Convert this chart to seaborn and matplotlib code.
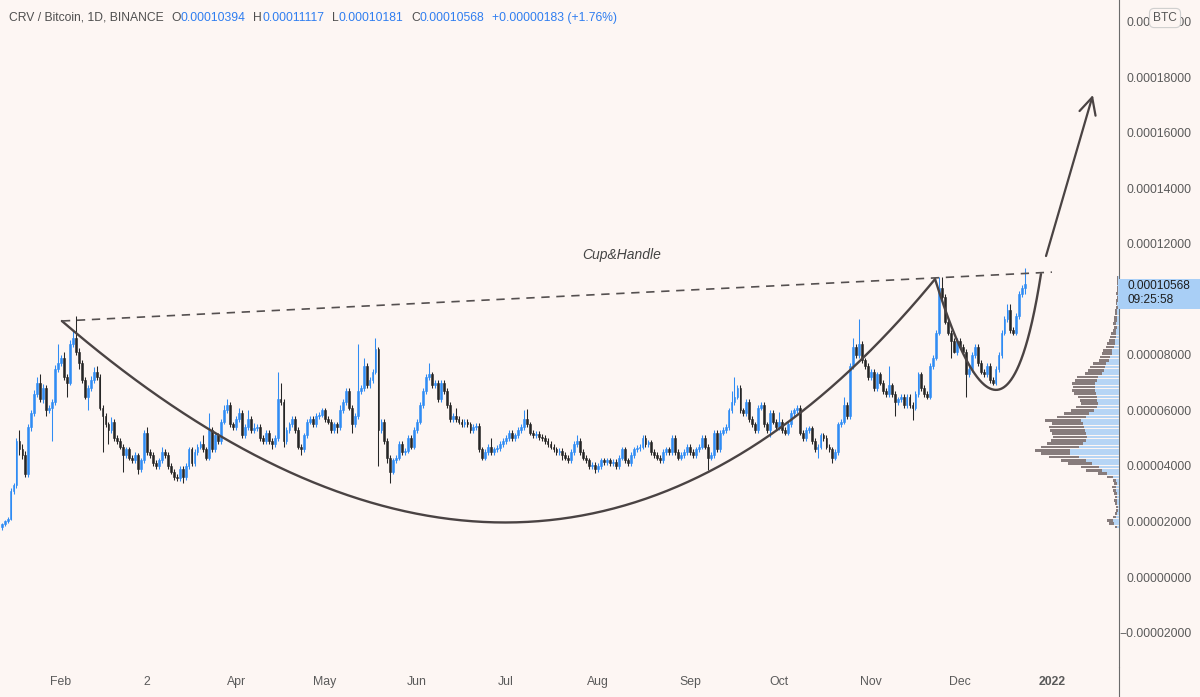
import numpy as np
import pandas as pd
import seaborn as sns
import matplotlib
matplotlib.use("Agg")
import matplotlib.pyplot as plt
import matplotlib.dates as mdates
from matplotlib.patches import Rectangle
from matplotlib.lines import Line2D
from matplotlib.transforms import blended_transform_factory

UNIT = 1e-6  # all prices below are in millionths of a BTC

# CRV / BTC daily candles, Jan 12 - Dec 23 2021 (open = previous close)
first_day = "2021-01-12"
first_open = 18
close = [
    # Jan 12 - Jan 31
    19, 20, 21, 31, 33, 49, 46, 44, 37, 54,
    59, 66, 70, 64, 68, 60, 61, 63, 75, 77,
    # Feb 1 - Mar 12
    79, 72, 70, 84, 86, 81, 77, 71, 65, 68,
    71, 74, 72, 61, 58, 55, 53, 56, 50, 49,
    47, 44, 46, 43, 42, 44, 39, 42, 52, 45,
    44, 41, 40, 42, 45, 44, 40, 38, 36, 35.5,
    # Mar 13 - May 8
    39, 36, 40, 46, 41, 45, 47, 48, 46, 43,
    53, 46, 51, 49, 56, 60, 62, 55, 54, 57,
    59, 51, 54, 57, 53, 53.5, 54, 50, 49, 52,
    49, 48, 50, 64, 63, 49, 53, 55, 57, 53,
    47, 46, 51, 56, 57, 55, 58, 58.5, 60, 57,
    56, 53, 55, 54, 60, 63, 67,
    # May 9 - Jul 5
    61, 55, 58, 67, 68, 76, 69, 71, 74, 82,
    53, 56, 49, 43, 38, 42, 43, 48, 45, 45.5,
    50, 47, 53, 56, 62, 67, 72, 73, 69, 70,
    64, 70, 67, 62, 57, 58, 57, 56, 55, 56,
    55, 53, 54, 54.5, 46, 43, 45, 47, 45, 46,
    46.5, 48, 49, 50, 52, 50, 51, 53,
    # Jul 6 - Aug 28
    54, 57, 55, 52, 51, 51.5, 50.5, 50, 49, 48,
    47, 46, 45, 45.5, 44, 43, 42, 45, 48, 49,
    45, 43, 42, 40, 40.5, 39, 40, 42, 41.5, 42,
    41, 41.5, 40, 43, 46, 42, 41, 44, 46, 46.5,
    47, 50, 48, 48.5, 45, 44, 43, 42, 45, 46,
    45, 50, 45, 43,
    # Aug 29 - Oct 24
    44, 45, 47, 45, 44, 46, 47, 50, 47, 43,
    44, 52, 46, 52, 53, 54, 60, 63, 65, 68,
    60, 59, 63, 57, 55, 53, 61, 62, 55, 53,
    59, 56, 54, 56, 53, 52, 55, 59, 60, 61,
    52, 50, 53, 53.5, 49, 46, 47, 51, 50, 47,
    46, 43, 45, 55, 56, 62, 58,
    # Oct 25 - Nov 23
    76, 83, 80, 84, 78, 76, 72, 74, 68, 73,
    70, 67, 66, 69, 66, 63, 64, 65, 62, 65,
    62, 61, 66, 73, 68, 66, 65, 76, 79, 88,
    # Nov 24 - Dec 23
    104, 101, 92, 88, 85, 81, 85, 83, 81, 73,
    75, 80, 83, 77, 74, 73, 76, 71, 70, 75,
    80, 88, 93, 96, 89, 88, 94, 102, 104, 105.68,
]
wick_hi = [
    0.5, 0.5, 0.5, 1, 1, 1, 4, 2, 1.5, 1,
    1, 1.5, 2, 3, 1.5, 1, 1, 1, 1.5, 7,
    1, 2, 1, 1.5, 3, 8, 1.5, 1, 1, 1,
    1.5, 1.5, 2, 1, 1, 1, 1, 1.5, 1, 1,
    1, 1, 1, 1, 1, 1, 0.5, 1, 1, 2,
    1, 1, 1, 1, 2, 1, 1, 1, 1, 1,
    1, 1, 1, 1, 1, 1, 1, 1, 3, 1,
    6, 1, 1, 1, 1, 2, 2, 1, 1, 1,
    2, 1, 1, 3, 1, 2, 1, 1, 1, 1,
    1, 1, 1, 10, 6, 1, 1, 1, 1, 1,
    1, 1, 1, 1, 1, 1, 1, 1, 1, 1,
    1, 1, 1, 1, 2, 1, 1,
    1, 1, 1, 17, 1, 3, 1, 1, 1, 4,
    1, 1, 1, 1, 1, 1, 1, 1, 1, 1,
    1, 1, 1, 1, 1, 1, 1, 4, 1, 1,
    1, 1, 1, 1, 1, 1, 3, 1, 1, 1,
    1, 1, 1, 1, 1, 1, 1, 1, 3, 1,
    1, 1, 1, 1, 1, 1, 1, 1,
    1, 3, 3.5, 1, 1, 1, 1, 1, 1, 1,
    1, 1, 1, 1, 1, 1, 1, 1, 1, 2,
    1, 1, 1, 1, 1, 1, 1, 1, 1, 1,
    1, 1, 1, 1, 1, 1, 1, 1, 1, 1,
    1, 1, 1, 1, 1, 1, 1, 1, 1, 1,
    1, 1, 1, 1,
    1, 1, 1, 1, 1, 1, 1, 1, 1, 1,
    1, 1, 1, 1, 1, 1, 1, 4, 7, 1,
    1, 1, 1, 1, 1, 1, 1, 1, 1, 1,
    1, 1, 1, 3.5, 1, 1, 1, 1, 1, 1,
    1, 1, 1, 1, 1, 1, 1, 1, 1, 1,
    1, 1, 1, 1, 1, 3, 1,
    1, 3, 1, 9, 1, 1, 1, 1, 1, 1,
    1, 1, 1, 7, 1, 1, 1, 1, 1, 1,
    1, 1, 1, 1, 1, 1, 1, 1, 1, 1,
    4, 4, 1, 1, 1, 1, 1, 1, 1, 1,
    1, 1, 1, 1, 1, 1, 1, 1, 1, 1,
    1, 1, 1, 2.5, 2.5, 1, 1, 1, 1, 5.5,
]
wick_lo = [
    1, 0.5, 0.5, 0.5, 1, 1, 2, 1.5, 1, 1,
    1.5, 1, 1, 1, 1.5, 2, 1, 12, 1, 1,
    1, 1, 5, 1, 1, 1, 2, 1, 1, 5,
    1, 1, 1, 1, 13, 1, 5, 1, 1, 1,
    1, 6, 1, 1, 1, 1, 2, 1, 1, 1,
    1, 1, 1, 1, 1, 1, 1, 1, 1, 1,
    1, 2, 1, 1, 1, 1, 1, 1, 1, 1,
    1, 1, 1, 1, 1, 1, 1, 1, 1, 1,
    1, 1, 1, 1, 1, 1, 1, 1, 1, 1,
    1, 2, 1, 1, 1, 2, 1, 1, 1, 1,
    1, 2, 1, 1, 1, 1, 1, 1, 1, 1,
    1, 1, 1, 2, 1, 1, 1,
    1, 3, 1, 1, 1, 1, 1, 1, 1, 1,
    13, 1, 1, 2, 4, 1, 1, 1, 1, 1,
    1, 1, 1, 1, 1, 1, 1, 1, 1, 1,
    1, 1, 1, 1, 1, 1, 1, 1, 1, 1,
    1, 1, 1, 1, 1, 1, 1, 1, 1, 1,
    1, 1, 1, 1, 1, 1, 1, 1,
    1, 1, 1, 1, 1, 1, 1, 1, 1, 1,
    1, 1, 1, 1, 2, 1, 1, 1, 1, 1,
    1, 1, 1, 1, 1, 1.5, 1, 1, 1, 1,
    1, 1, 1, 1, 1, 1, 1, 1, 1, 1,
    1, 1, 1, 1, 1, 1, 1, 1, 1, 1,
    1, 1, 1, 1,
    1, 1, 1, 1, 1, 1, 1, 1, 1, 4.5,
    1, 1, 1, 1, 1, 1, 1, 1, 1, 1,
    1, 1, 1, 1, 1, 1, 1, 1, 1, 1,
    2.5, 1, 1, 1, 1, 1, 1, 1, 1, 1,
    1, 1, 1, 1, 1, 1, 3, 1, 1, 1,
    1, 2, 1, 1, 1, 1, 1,
    1, 1, 1, 1, 1, 1, 1, 1, 1, 1,
    1, 1, 1, 1, 1, 5, 1, 1, 1, 1,
    1, 4.5, 1, 1, 1, 1, 1, 1, 1, 1,
    1, 1, 1, 1, 6, 0.5, 1, 1, 1, 8,
    1, 1, 1, 1, 1, 1, 1, 1, 1, 1,
    1, 1, 1, 1, 1, 1, 1, 1, 1, 2.2,
]

# visible range volume profile, top row first (bar lengths in pixels)
vp_top, vp_step = 108.0, 1.2
vp_total = [
    2, 2, 2.5, 2, 2.5, 3, 2.5, 3, 3.5, 3,
    4, 4.5, 5, 5.5, 6, 5.5, 6.5, 8, 9, 10,
    12, 13, 16, 17, 19, 20, 26, 29, 31, 34,
    42, 44, 47, 46, 47, 45, 41, 39, 38, 43,
    48, 55, 62, 74, 67, 70, 69, 67, 66, 68,
    72, 78, 84, 78, 70, 58, 51, 38, 33, 21,
    12, 6, 5, 7, 6, 5, 4, 5, 4, 3.5,
    3, 4, 6, 12, 10, 4,
]
vp_up = [
    1, 1, 1.5, 1, 1.5, 1.5, 1, 1.5, 2, 1.5,
    2, 2, 2.5, 2.5, 3, 2.5, 3, 3.5, 3.5, 4,
    4.5, 5, 7, 7.5, 9, 10, 13, 14, 15, 17,
    21, 22, 24, 24, 24, 23, 22, 22, 21, 22,
    25, 30, 33, 38, 36, 35, 34, 33, 32, 33,
    36, 40, 49, 49, 40, 33, 27, 20, 17, 12,
    6, 3, 2.5, 3, 3, 2.5, 2, 2.5, 2, 1.5,
    1.5, 2, 3, 6, 5, 2,
]

# hand drawings: (days after Feb 1 2021, price)
anchor = "2021-02-01"
trend_days, trend_px = [0.3, 334.0], [92.2, 109.8]
cup_days, cup_px = [0.3, 165.8, 294.6], [92.2, -60.1, 107.3]
handle_days, handle_px = [294.6, 318.2, 330.3], [107.3, 26.6, 109.1]
arrow_days, arrow_px = [332.0, 347.8], [115.6, 173.6]
label_day, label_px = 189.0, 116.0

tick_dates = ["2021-02-01", "2021-03-02", "2021-04-01", "2021-05-01", "2021-06-01",
              "2021-07-01", "2021-08-01", "2021-09-01", "2021-10-01", "2021-11-01",
              "2021-12-01", "2022-01-01"]
tick_labels = ["Feb", "2", "Apr", "May", "Jun", "Jul", "Aug", "Sep", "Oct", "Nov", "Dec", "2022"]

header = [("CRV / Bitcoin, 1D, BINANCE", "grey", 0), ("O", "grey", 5.5), ("0.00010394", "blue", 0),
          ("H", "grey", 5.5), ("0.00011117", "blue", 0), ("L", "grey", 5.5), ("0.00010181", "blue", 0),
          ("C", "grey", 5.5), ("0.00010568", "blue", 0), ("+0.00000183 (+1.76%)", "blue", 5.5)]

BG = "#fdf6f3"
UP = "#2f8cf4"
DOWN = "#262626"
INK = "#4a4343"
TXT = "#5a5a5a"
HEAD = {"grey": "#4f4f4f", "blue": "#2f7ef0"}

sns.set_theme(style="white", rc={"axes.facecolor": BG, "figure.facecolor": BG})
plt.rcParams["font.family"] = ["Liberation Sans", "DejaVu Sans"]

df = pd.DataFrame({"close": np.array(close, dtype=float) * UNIT})
df["date"] = pd.date_range(first_day, periods=len(df), freq="D")
df["open"] = df["close"].shift(1).fillna(first_open * UNIT)
df["high"] = df[["open", "close"]].max(axis=1) + np.array(wick_hi) * UNIT
df["low"] = df[["open", "close"]].min(axis=1) - np.array(wick_lo) * UNIT
colors = np.where(df["close"] >= df["open"], UP, DOWN)

fig = plt.figure(figsize=(12, 6.97), dpi=100)
ax = fig.add_axes([0, 30 / 697, 1119 / 1200, 667 / 697])

ax.vlines(df["date"], df["low"], df["high"], colors=colors, linewidth=0.75, zorder=2)
ax.bar(df["date"], df["close"] - df["open"], bottom=df["open"], width=0.62,
       color=colors, edgecolor=colors, linewidth=0.4, zorder=3)

base = mdates.date2num(pd.Timestamp(anchor))


def bezier(days, prices, n=240):
    t = np.linspace(0, 1, n)[:, None]
    p = np.column_stack([days, prices])
    pts = (1 - t) ** 2 * p[0] + 2 * t * (1 - t) * p[1] + t ** 2 * p[2]
    return base + pts[:, 0], pts[:, 1] * UNIT


cx, cy = bezier(cup_days, cup_px)
hx, hy = bezier(handle_days, handle_px)
sns.lineplot(x=cx, y=cy, ax=ax, color=INK, linewidth=1.7, sort=False, estimator=None, zorder=4)
sns.lineplot(x=hx, y=hy, ax=ax, color=INK, linewidth=1.7, sort=False, estimator=None, zorder=4)
ax.plot(base + np.array(trend_days), np.array(trend_px) * UNIT, color="#555050",
        linewidth=1.2, linestyle=(0, (5, 4)), zorder=4)
ax.annotate("", xy=(base + arrow_days[1], arrow_px[1] * UNIT),
            xytext=(base + arrow_days[0], arrow_px[0] * UNIT),
            arrowprops=dict(arrowstyle="->,head_length=1.0,head_width=0.5", color=INK,
                            linewidth=1.6, shrinkA=0, shrinkB=0), zorder=4)
ax.text(base + label_day, label_px * UNIT, "Cup&Handle", fontsize=10, style="italic",
        color="#444444", ha="center", va="center")

ax.set_xlim(base - 20.56, base + 356.6)
ax.set_ylim(-32.4 * UNIT, 207.8 * UNIT)

# volume profile hanging off the price scale
vp = ax.twiny()
vp.set_xlim(1119, 0)
vp.axis("off")
levels = (vp_top - vp_step * np.arange(len(vp_total))) * UNIT
vp_total_a = np.array(vp_total, dtype=float)
vp_up_a = np.array(vp_up, dtype=float)
vp.barh(levels, vp_up_a, height=1.0 * UNIT, left=0, color="#b6d5f5", linewidth=0)
vp.barh(levels, vp_total_a - vp_up_a, height=1.0 * UNIT, left=vp_up_a, color="#877c7c", linewidth=0)

# axes
last = df["close"].iloc[-1]
yt = np.arange(-1, 11) * 2e-5
ax.set_yticks(yt)
# the label sitting under the last-price tag is hidden, as on the chart
ax.set_yticklabels(["" if abs(v - last) < 8 * UNIT else f"{v:.8f}".replace("-", "\u2212") for v in yt])
ax.yaxis.tick_right()
ax.tick_params(axis="y", length=0, pad=52.5, labelsize=8.8, labelcolor=TXT)
for lab in ax.get_yticklabels():
    lab.set_horizontalalignment("right")
ax.set_xticks([mdates.date2num(pd.Timestamp(d)) for d in tick_dates])
ax.set_xticklabels(tick_labels)
ax.tick_params(axis="x", length=0, pad=6.5, labelsize=8.8, labelcolor=TXT)
ax.get_xticklabels()[-1].set_fontweight("bold")
ax.grid(False)
for side in ["top", "left", "bottom"]:
    ax.spines[side].set_visible(False)
ax.spines["right"].set_color("#6b6b6b")
ax.spines["right"].set_linewidth(0.8)
fig.add_artist(Line2D([1119 / 1200, 1119 / 1200], [0, 30 / 697], color="#6b6b6b", linewidth=0.8))

# last price tag
tr = blended_transform_factory(ax.transAxes, ax.transData)
ax.add_patch(Rectangle((0.998, last - 9.2 * UNIT), 0.08, 10.8 * UNIT, transform=tr,
                       facecolor="#a9cff6", edgecolor="none", clip_on=False, zorder=6))
ax.text(1.008, last + 1.2 * UNIT, f"{last:.8f}\n09:25:58", transform=tr, va="top", ha="left",
        fontsize=8.6, color="#1e1e1e", linespacing=1.25, clip_on=False, zorder=7)

# currency badge
fig.text(1165 / 1200, 1 - 18 / 697, "BTC", ha="center", va="center", fontsize=8.6, color="#555555",
         bbox=dict(boxstyle="round,pad=0.3,rounding_size=0.4", facecolor=BG, edgecolor="#cfcfcf",
                   linewidth=0.8), zorder=10)

# header line
prev = fig.text(9 / 1200, 1 - 18 / 697, header[0][0], fontsize=8.7, color=HEAD[header[0][1]],
                ha="left", va="center")
for text, tone, gap in header[1:]:
    prev = ax.annotate(text, xy=(1, 0.5), xycoords=prev, xytext=(gap, 0), textcoords="offset points",
                       fontsize=8.7, color=HEAD[tone], ha="left", va="center", annotation_clip=False)

fig.savefig("out.png", dpi=100, facecolor=BG)
